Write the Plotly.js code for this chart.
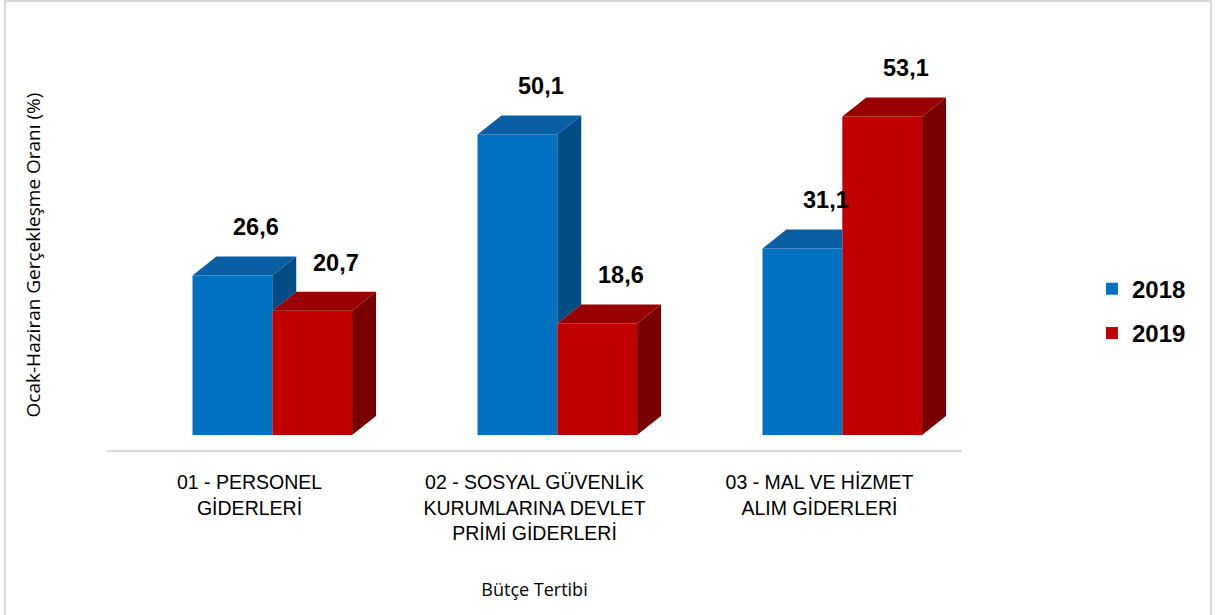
<!DOCTYPE html>
<html>
<head>
<meta charset="utf-8">
<script src="https://cdn.plot.ly/plotly-3.0.1.min.js"></script>
<style>
  html, body { margin: 0; padding: 0; background: #ffffff; }
  #chart { width: 1215px; height: 615px; }
  #frame { position: absolute; left: 4px; top: 0px; width: 1208px; height: 640px;
           border: 2px solid #d9d9d9; pointer-events: none; box-sizing: border-box; }
</style>
</head>
<body>
<div id="chart"></div>
<div id="frame"></div>
<script>
// ---- data ----
const categories = [
  "01 - PERSONEL<br>GİDERLERİ",
  "02 - SOSYAL GÜVENLİK<br>KURUMLARINA DEVLET<br>PRİMİ GİDERLERİ",
  "03 - MAL VE HİZMET<br>ALIM GİDERLERİ"
];
const seriesNames = ["2018", "2019"];
const values2018 = [26.6, 50.1, 31.1];
const values2019 = [20.7, 18.6, 53.1];

// ---- styling / geometry ----
const frontColors = ["#0070C0", "#C00000"];
const topColors   = ["#0A5EA4", "#990000"];
const sideColors  = ["#004C85", "#790000"];
const BAR_W = 0.28;
const OFFSETS = [-0.2, 0.08];
const DEPTH_X = 0.084;   // depth in x-axis units
const DEPTH_Y = 3.17;    // depth in y-axis units

const series = [values2018, values2019];
const xpos = categories.map((c, i) => i);
const fmt = v => v.toFixed(1).replace(".", ",");
const labelFont = { family: "Liberation Sans, Arial, sans-serif", size: 23.5, color: "#000000", weight: "bold" };

const traces = [];
// front faces as bars
series.forEach((vals, s) => {
  traces.push({
    type: "bar", name: seriesNames[s], x: xpos, y: vals,
    width: BAR_W, offset: OFFSETS[s],
    marker: { color: frontColors[s], line: { width: 0 } },
    legendgroup: "g" + s, hoverinfo: "skip"
  });
});
// top and side faces as filled polygons
series.forEach((vals, s) => {
  const tx = [], ty = [], sx = [], sy = [];
  vals.forEach((v, i) => {
    const x0 = i + OFFSETS[s], x1 = x0 + BAR_W;
    const nv = (s + 1 < series.length) ? series[s + 1][i] : null;
    // top face
    if (nv !== null && nv >= v + DEPTH_Y) {
      tx.push(x0, x1, x1, x0 + DEPTH_X, x0, null);
      ty.push(v, v, v + DEPTH_Y, v + DEPTH_Y, v, null);
    } else {
      tx.push(x0, x1, x1 + DEPTH_X, x0 + DEPTH_X, x0, null);
      ty.push(v, v, v + DEPTH_Y, v + DEPTH_Y, v, null);
    }
    // side face (part hidden behind the next bar removed)
    let base = 0;
    if (nv !== null) base = nv;
    if (base < v) {
      sx.push(x1, x1, x1 + DEPTH_X, x1 + DEPTH_X, x1, null);
      sy.push(base, v, v + DEPTH_Y, base + DEPTH_Y, base, null);
    }
  });
  traces.push({ type: "scatter", mode: "lines", x: sx, y: sy, fill: "toself",
    fillcolor: sideColors[s], line: { width: 0, color: sideColors[s] },
    showlegend: false, hoverinfo: "skip" });
  traces.push({ type: "scatter", mode: "lines", x: tx, y: ty, fill: "toself",
    fillcolor: topColors[s], line: { width: 0, color: topColors[s] },
    showlegend: false, hoverinfo: "skip" });
});

// value labels
const annotations = [];
series.forEach((vals, s) => {
  vals.forEach((v, i) => {
    annotations.push({
      x: i + OFFSETS[s] + BAR_W / 2 + DEPTH_X, y: v,
      xref: "x", yref: "y", text: fmt(v), showarrow: false,
      yanchor: "middle", yshift: 48, font: labelFont
    });
  });
});

const layout = {
  width: 1215, height: 615,
  margin: { l: 107, r: 253, t: 60, b: 165 },
  paper_bgcolor: "#ffffff", plot_bgcolor: "rgba(0,0,0,0)",
  barmode: "overlay",
  showlegend: true,
  legend: {
    x: 1.152, xanchor: "left", y: 0.356, yanchor: "middle",
    font: { family: "Liberation Sans, Arial, sans-serif", size: 24, color: "#000000", weight: "bold" },
    tracegroupgap: 10, bgcolor: "rgba(0,0,0,0)"
  },
  xaxis: {
    range: [-0.5, 2.5], tickmode: "array", tickvals: xpos, ticktext: categories,
    showgrid: false, zeroline: false, ticks: "", ticklabelstandoff: 14,
    showline: true, linecolor: "#d9d9d9", linewidth: 2,
    tickfont: { family: "Liberation Sans, Arial, sans-serif", size: 19.5, color: "#000000" },
    title: { text: "Bütçe Tertibi", standoff: 40,
      font: { family: "Open Sans, sans-serif", size: 18, color: "#000000" } },
    automargin: false, fixedrange: true
  },
  yaxis: {
    range: [-2.5, 62.5], showgrid: false, zeroline: false, showline: false,
    showticklabels: false, ticks: "",
    title: { text: "Ocak-Haziran Gerçekleşme Oranı (%)", standoff: 60,
      font: { family: "Open Sans, sans-serif", size: 19, color: "#000000" } },
    automargin: false, fixedrange: true
  },
  annotations: annotations
};

Plotly.newPlot("chart", traces, layout, { displayModeBar: false, staticPlot: true });
</script>
</body>
</html>
